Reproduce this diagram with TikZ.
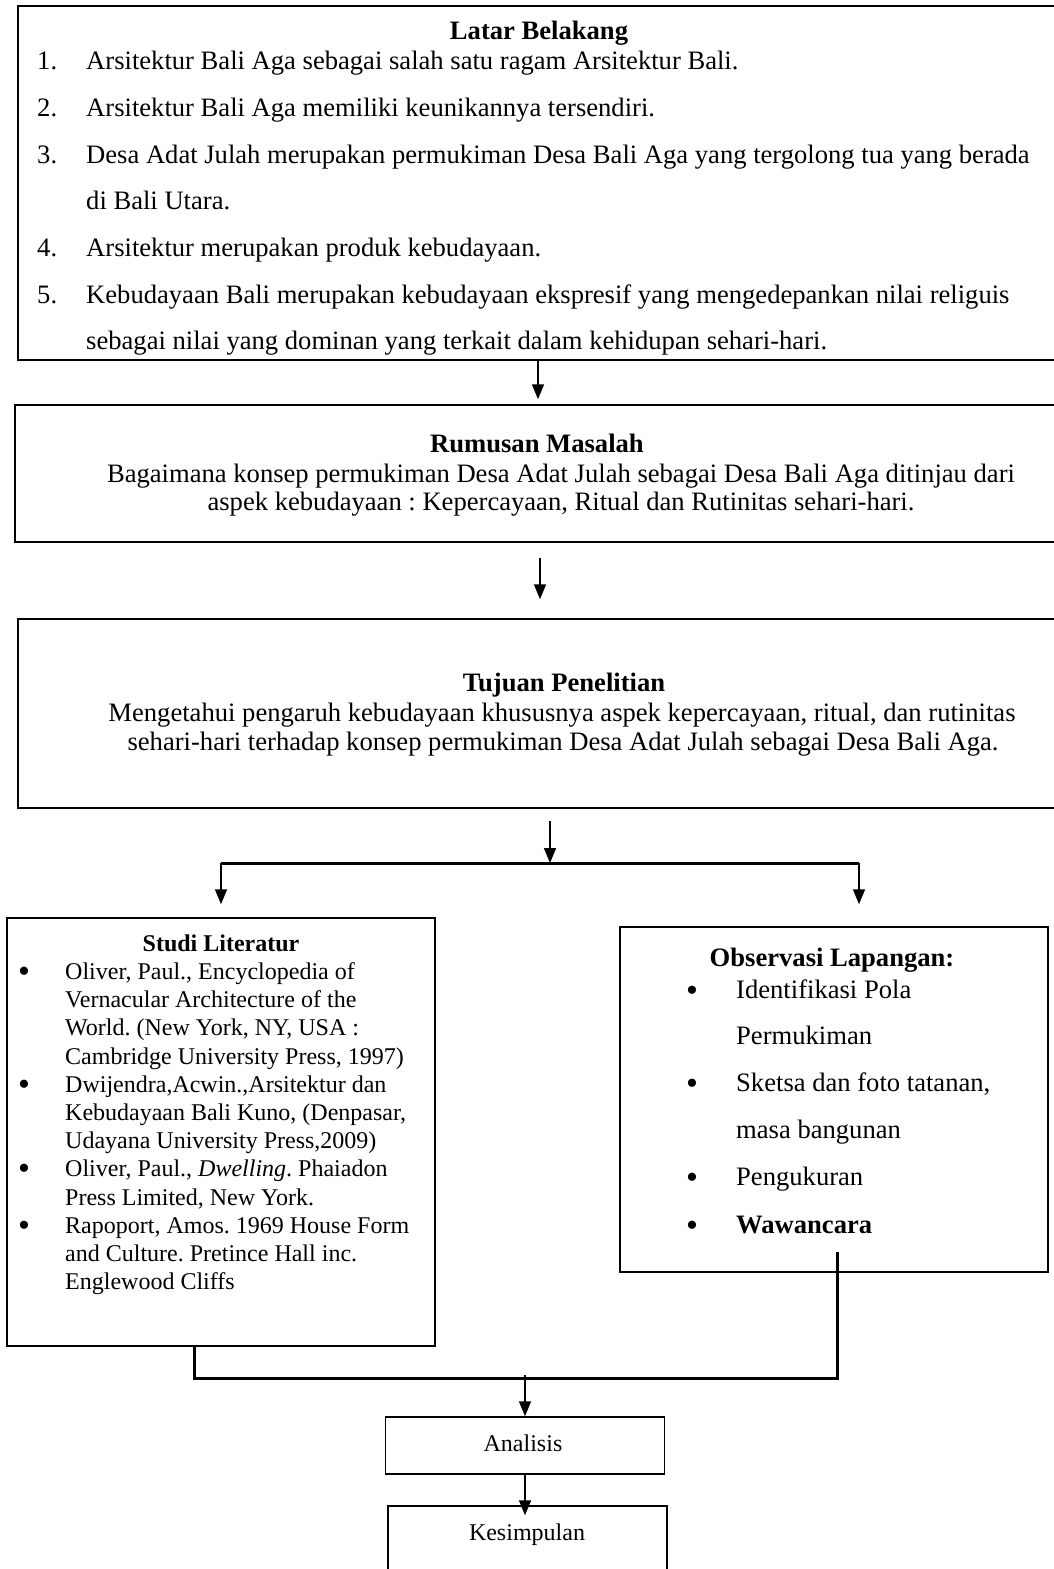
\documentclass[tikz,border=0pt]{standalone}
\usepackage{fontspec}
\setmainfont{Liberation Serif}
\frenchspacing
\usetikzlibrary{arrows.meta}

\tikzset{
  box/.style={draw, line width=1.5pt, rectangle, inner sep=0pt},
  big/.style={font=\fontsize{26.6}{30}\selectfont, inner sep=0pt},
  small/.style={font=\fontsize{24}{28}\selectfont, inner sep=0pt},
  dot/.style={font=\fontsize{34}{34}\selectfont, inner sep=0pt},
  arr/.style={line width=1.6pt, -{Triangle[width=12pt,length=15pt]}},
  bar/.style={line width=3pt},
}

\begin{document}
\begin{tikzpicture}[x=1pt, y=-1pt]
  \useasboundingbox (0,0) rectangle (1054,1569);

  % Latar Belakang box
  \node[box, minimum width=1040, minimum height=354] (latar) at (538,183) {};
  \node[big, anchor=base] (latarT) at (539,39) {\textbf{Latar Belakang}};
  \node[big, anchor=base west] (n1) at (37,69) {1.};
  \node[big, anchor=base west] (l1) at (86,69) {Arsitektur Bali Aga sebagai salah satu ragam Arsitektur Bali.};
  \node[big, anchor=base west] (n2) at (37,116) {2.};
  \node[big, anchor=base west] (l2) at (86,116) {Arsitektur Bali Aga memiliki keunikannya tersendiri.};
  \node[big, anchor=base west] (n3) at (37,163) {3.};
  \node[big, anchor=base west] (l3) at (86,163) {Desa Adat Julah merupakan permukiman Desa Bali Aga yang tergolong tua yang berada};
  \node[big, anchor=base west] (l3b) at (86,209) {di Bali Utara.};
  \node[big, anchor=base west] (n4) at (37,256) {4.};
  \node[big, anchor=base west] (l4) at (86,256) {Arsitektur merupakan produk kebudayaan.};
  \node[big, anchor=base west] (n5) at (37,303) {5.};
  \node[big, anchor=base west] (l5) at (86,303) {Kebudayaan Bali merupakan kebudayaan ekspresif yang mengedepankan nilai religuis};
  \node[big, anchor=base west] (l5b) at (86,349) {sebagai nilai yang dominan yang terkait dalam kehidupan sehari-hari.};

  % Rumusan Masalah box
  \node[box, minimum width=1050, minimum height=137] (rumusan) at (540,473.5) {};
  \node[big, anchor=base] (rumusanT) at (537,452) {\textbf{Rumusan Masalah}};
  \node[big, anchor=base] (r1) at (561,482) {Bagaimana konsep permukiman Desa Adat Julah sebagai Desa Bali Aga ditinjau dari};
  \node[big, anchor=base] (r2) at (561,510) {aspek kebudayaan : Kepercayaan, Ritual dan Rutinitas sehari-hari.};

  % Tujuan Penelitian box
  \node[box, minimum width=1064, minimum height=189] (tujuan) at (550,713.5) {};
  \node[big, anchor=base] (tujuanT) at (564,691) {\textbf{Tujuan Penelitian}};
  \node[big, anchor=base] (t1) at (562,721) {Mengetahui pengaruh kebudayaan khususnya aspek kepercayaan, ritual, dan rutinitas};
  \node[big, anchor=base] (t2) at (563,750) {sehari-hari terhadap konsep permukiman Desa Adat Julah sebagai Desa Bali Aga.};

  % Studi Literatur box
  \node[box, minimum width=428, minimum height=428] (studi) at (221,1132) {};
  \node[small, anchor=base] (studiT) at (221,951) {\textbf{Studi Literatur}};
  \node[dot, anchor=base] (sb1) at (24,982) {\textbullet};
  \node[small, anchor=base west] (s1) at (65,979) {Oliver, Paul., Encyclopedia of};
  \node[small, anchor=base west] (s1b) at (65,1007) {Vernacular Architecture of the};
  \node[small, anchor=base west] (s1c) at (65,1035) {World. (New York, NY, USA :};
  \node[small, anchor=base west] (s1d) at (65,1064) {Cambridge University Press, 1997)};
  \node[dot, anchor=base] (sb2) at (24,1095) {\textbullet};
  \node[small, anchor=base west] (s2) at (65,1092) {Dwijendra,Acwin.,Arsitektur dan};
  \node[small, anchor=base west] (s2b) at (65,1120) {Kebudayaan Bali Kuno, (Denpasar,};
  \node[small, anchor=base west] (s2c) at (65,1148) {Udayana University Press,2009)};
  \node[dot, anchor=base] (sb3) at (24,1179) {\textbullet};
  \node[small, anchor=base west] (s3) at (65,1176) {Oliver, Paul., \textit{Dwelling}. Phaiadon};
  \node[small, anchor=base west] (s3b) at (65,1205) {Press Limited, New York.};
  \node[dot, anchor=base] (sb4) at (24,1236) {\textbullet};
  \node[small, anchor=base west] (s4) at (65,1233) {Rapoport, Amos. 1969 House Form};
  \node[small, anchor=base west] (s4b) at (65,1261) {and Culture. Pretince Hall inc.};
  \node[small, anchor=base west] (s4c) at (65,1289) {Englewood Cliffs};

  % Observasi Lapangan box
  \node[box, minimum width=428, minimum height=345] (obs) at (834,1099.5) {};
  \node[big, anchor=base] (obsT) at (832,966) {\textbf{Observasi Lapangan:}};
  \node[dot, anchor=base] (ob1) at (692,1001) {\textbullet};
  \node[big, anchor=base west] (o1) at (736,998) {Identifikasi Pola};
  \node[big, anchor=base west] (o1b) at (736,1044) {Permukiman};
  \node[dot, anchor=base] (ob2) at (692,1094) {\textbullet};
  \node[big, anchor=base west] (o2) at (736,1091) {Sketsa dan foto tatanan,};
  \node[big, anchor=base west] (o2b) at (736,1138) {masa bangunan};
  \node[dot, anchor=base] (ob3) at (692,1188) {\textbullet};
  \node[big, anchor=base west] (o3) at (736,1185) {Pengukuran};
  \node[dot, anchor=base] (ob4) at (692,1236) {\textbullet};
  \node[big, anchor=base west] (o4) at (736,1233) {\textbf{Wawancara}};

  % Analisis and Kesimpulan
  \node[box, minimum width=279, minimum height=57] (analisis) at (525,1445.5) {};
  \node[small, anchor=base] (analisisT) at (523,1451) {Analisis};
  \node[box, minimum width=279, minimum height=114] (kesimpulan) at (527.5,1563) {};
  \node[small, anchor=base] (kesimpulanT) at (527,1540) {Kesimpulan};

  % Connectors
  \draw[arr, shorten >=5pt] (latar.south) -- (latar.south |- rumusan.north);
  \draw[arr, shorten <=15pt, shorten >=19pt] (rumusan.south) -- (rumusan.south |- tujuan.north);
  \coordinate (split) at (550,863);
  \coordinate (splitR) at (859,863);
  \draw[arr, shorten <=12pt] (tujuan.south) -- (split);
  \draw[bar] (studi.north |- split) -- (splitR);
  \draw[arr, shorten >=13pt] (studi.north |- split) -- (studi.north);
  \draw[arr, shorten >=22pt] (splitR) -- (splitR |- obs.north);

  % Merge into Analisis
  \coordinate (mergeL) at (194,1378);
  \coordinate (mergeR) at (837,1378);
  \coordinate (obsTail) at (837,1252);
  \draw[bar] (mergeL |- studi.south) -- (mergeL) -- (mergeR) -- (obsTail);
  \draw[arr, shorten <=-3pt] (mergeL -| analisis.north) -- (analisis.north);
  \draw[arr, shorten >=-10pt] (analisis.south) -- (analisis.south |- kesimpulan.north);
\end{tikzpicture}
\end{document}
